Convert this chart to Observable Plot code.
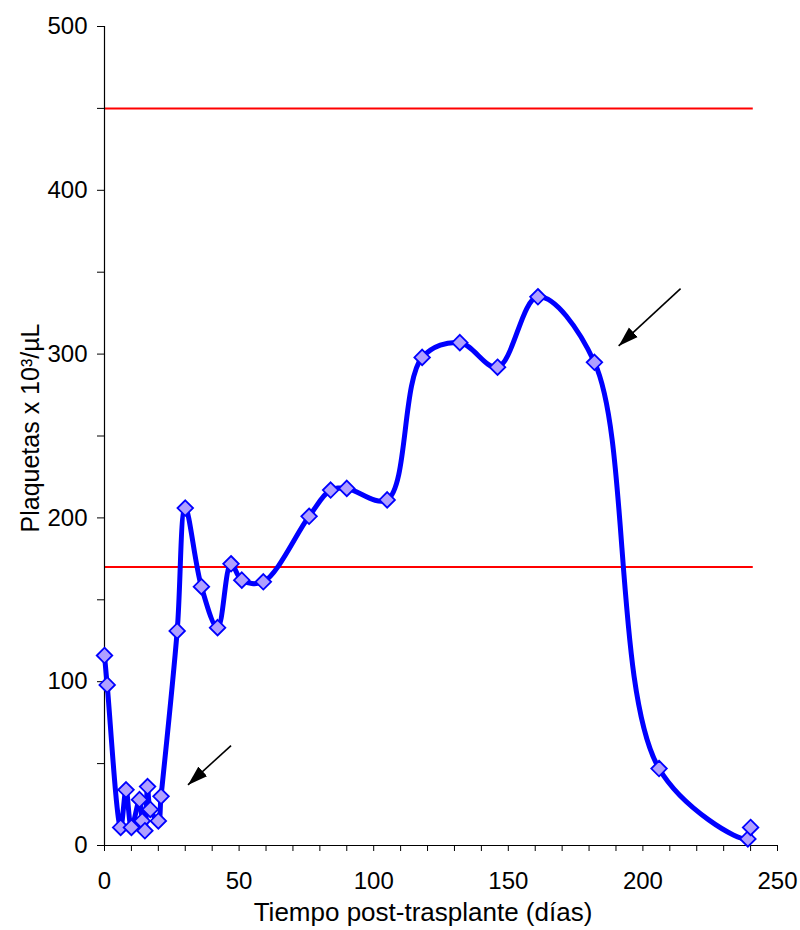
<!DOCTYPE html>
<html>
<head>
<meta charset="utf-8">
<script src="https://cdn.jsdelivr.net/npm/d3@7"></script>
<script src="https://cdn.jsdelivr.net/npm/@observablehq/plot@0.6"></script>
<style>
  html, body { margin: 0; padding: 0; background: #fff; }
  #chart svg { font-family: "Liberation Sans", Arial, sans-serif; }
</style>
</head>
<body>
<div id="chart"></div>
<script>
// Data
const days      = [0, 1, 6, 8, 10, 13, 14, 15, 16, 17, 20, 21, 27, 30, 36, 42, 47, 51, 59, 76, 84, 90, 105, 118, 132, 146, 161, 182, 206, 239, 240];
const plaquetas = [116, 98, 11, 34, 11, 28, 15, 9, 36, 22, 15, 30, 131, 206, 158, 133, 172, 162, 161, 201, 217, 218, 211, 298, 307, 292, 335, 295, 47, 4, 11];
const refLevels = [450, 170];
const refEndDay = 241;
// Annotation arrows (start -> tip), in data units
const arrowX1 = [47, 214];
const arrowY1 = [61, 340];
const arrowX2 = [31, 191];
const arrowY2 = [37, 305];
const xTicks = d3.range(0, 251, 10);
const yTicks = d3.range(0, 501, 50);

const data = days.map((d, i) => ({day: d, value: plaquetas[i]}));
const refs = refLevels.map(v => ({value: v}));
const arrows = arrowX1.map((x, i) => ({x1: x, y1: arrowY1[i], x2: arrowX2[i], y2: arrowY2[i]}));

function arrowHead(color, context) {
  const ns = "http://www.w3.org/2000/svg";
  const m = context.document.createElementNS(ns, "marker");
  m.setAttribute("viewBox", "0 -7 20 14");
  m.setAttribute("markerWidth", 20);
  m.setAttribute("markerHeight", 14);
  m.setAttribute("markerUnits", "userSpaceOnUse");
  m.setAttribute("refX", 20);
  m.setAttribute("refY", 0);
  m.setAttribute("orient", "auto");
  const p = context.document.createElementNS(ns, "path");
  p.setAttribute("d", "M0,-6.5L20,0L0,6.5Z");
  p.setAttribute("fill", color);
  p.setAttribute("stroke", "none");
  m.appendChild(p);
  return m;
}

const chart = Plot.plot({
  width: 800,
  height: 930,
  marginLeft: 104,
  marginRight: 23,
  marginTop: 26,
  marginBottom: 85,
  style: {fontFamily: "'Liberation Sans', Arial, sans-serif", fontSize: "24px", color: "#000", background: "#fff"},
  x: {domain: [0, 250]},
  y: {domain: [0, 500]},
  marks: [
    Plot.ruleY(refs, {y: "value", x1: 0, x2: refEndDay, stroke: "#ff0000", strokeWidth: 2}),
    Plot.ruleX([0], {stroke: "#000", strokeWidth: 1.2}),
    Plot.ruleY([0], {stroke: "#000", strokeWidth: 1.2}),
    Plot.axisX({
      ticks: xTicks,
      tickSize: 6,
      tickPadding: 20,
      tickFormat: d => d % 50 === 0 ? d : "",
      fontSize: 24,
      label: null
    }),
    Plot.text(["Tiempo post-trasplante (días)"], {
      frameAnchor: "bottom",
      lineAnchor: "middle",
      dx: -18,
      dy: 67,
      fontSize: 26,
      textAnchor: "middle",
      fill: "#000"
    }),
    Plot.axisY({
      ticks: yTicks,
      tickSize: 7,
      tickPadding: 10,
      tickFormat: d => d % 100 === 0 ? d : "",
      fontSize: 24,
      label: null
    }),
    Plot.text(["Plaquetas x 10³/µL"], {
      frameAnchor: "left",
      lineAnchor: "middle",
      dx: -74,
      dy: -8,
      rotate: -90,
      fontSize: 25,
      textAnchor: "middle",
      fill: "#000"
    }),
    Plot.line(data, {x: "day", y: "value", curve: "catmull-rom", stroke: "#0000ff", strokeWidth: 5}),
    Plot.dot(data, {x: "day", y: "value", symbol: "diamond2", r: 7, fill: "#b0a0ff", stroke: "#0000ff", strokeWidth: 1.8}),
    Plot.link(arrows, {x1: "x1", y1: "y1", x2: "x2", y2: "y2", stroke: "#000", strokeWidth: 1.6, markerEnd: arrowHead})
  ]
});
document.getElementById("chart").appendChild(chart);
</script>
</body>
</html>
